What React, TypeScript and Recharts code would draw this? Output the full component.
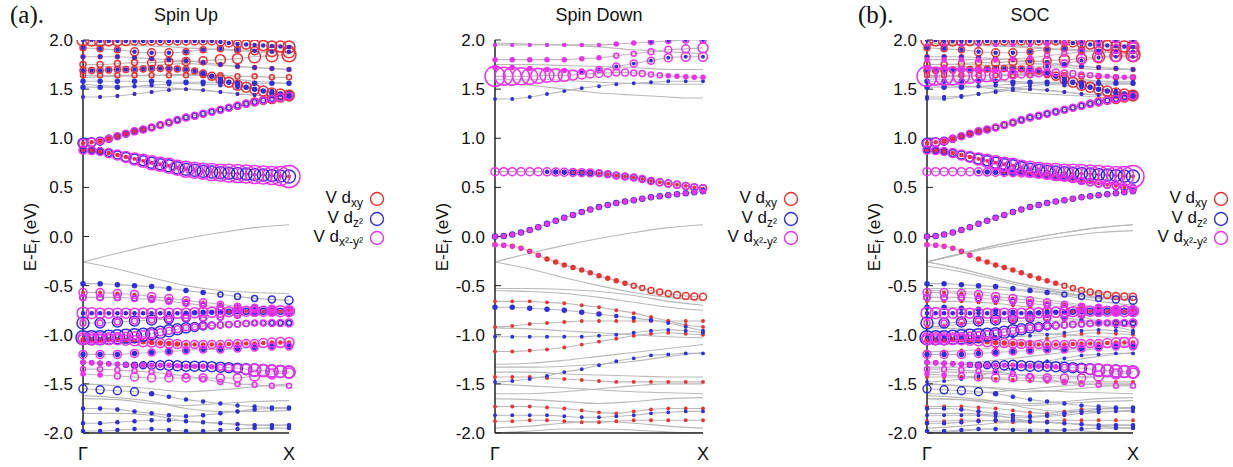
import { ComposedChart, Line, Scatter, XAxis, YAxis } from "recharts";

// k-path grids (Γ = 0, X = 1)
const K25 = [
  0, 0.042, 0.083, 0.125, 0.167, 0.208, 0.25, 0.292, 0.333, 0.375, 0.417, 0.458, 0.5, 0.542, 0.583,
  0.625, 0.667, 0.708, 0.75, 0.792, 0.833, 0.875, 0.917, 0.958, 1,
];
const K13 = [0, 0.083, 0.167, 0.25, 0.333, 0.417, 0.5, 0.583, 0.667, 0.75, 0.833, 0.917, 1];
const K7 = [0, 0.167, 0.333, 0.5, 0.667, 0.833, 1];
const Y_TICKS = [-2, -1.5, -1, -0.5, 0, 0.5, 1, 1.5, 2];
const X_LABELS = ["Γ", "X"];

const RED = "#ee3030";
const BLUE = "#2f2fe0";
const MAGENTA = "#ee30ee";

// ---- spin up: strong bands, fine k grid (K25) ----
const upMainE = [
  [0.95, 0.96, 0.97, 0.995, 1.02, 1.045, 1.07, 1.09, 1.11, 1.135, 1.16, 1.185, 1.21, 1.23, 1.25, 1.27, 1.29, 1.31, 1.33, 1.35, 1.37, 1.385, 1.4, 1.415, 1.43],
  [0.88, 0.875, 0.865, 0.85, 0.83, 0.81, 0.79, 0.77, 0.75, 0.735, 0.72, 0.7, 0.685, 0.675, 0.665, 0.657, 0.65, 0.645, 0.64, 0.635, 0.63, 0.625, 0.62, 0.615, 0.61],
  [2.0, 2.0, 1.99, 1.99, 1.99, 1.99, 1.99, 1.99, 1.99, 1.99, 1.99, 1.99, 1.99, 1.99, 1.99, 1.99, 1.98, 1.97, 1.96, 1.955, 1.95, 1.945, 1.94, 1.935, 1.93],
  [1.69, 1.69, 1.69, 1.695, 1.7, 1.7, 1.7, 1.705, 1.71, 1.71, 1.71, 1.705, 1.7, 1.685, 1.66, 1.63, 1.6, 1.57, 1.54, 1.52, 1.5, 1.48, 1.46, 1.45, 1.44],
  [-0.78, -0.78, -0.78, -0.78, -0.78, -0.78, -0.78, -0.78, -0.78, -0.78, -0.78, -0.78, -0.78, -0.775, -0.77, -0.77, -0.77, -0.765, -0.76, -0.76, -0.76, -0.76, -0.76, -0.76, -0.76],
  [-1.03, -1.03, -1.03, -1.025, -1.02, -1.015, -1.01, -1.0, -0.99, -0.975, -0.96, -0.945, -0.93, -0.92, -0.91, -0.905, -0.9, -0.895, -0.89, -0.885, -0.88, -0.88, -0.88, -0.88, -0.88],
  [-1.05, -1.05, -1.05, -1.05, -1.05, -1.055, -1.06, -1.07, -1.08, -1.085, -1.09, -1.095, -1.1, -1.1, -1.1, -1.1, -1.1, -1.095, -1.09, -1.09, -1.09, -1.085, -1.08, -1.08, -1.08],
  [-1.28, -1.285, -1.29, -1.295, -1.3, -1.305, -1.31, -1.31, -1.31, -1.31, -1.31, -1.315, -1.32, -1.32, -1.32, -1.325, -1.33, -1.335, -1.34, -1.35, -1.36, -1.365, -1.37, -1.375, -1.38],
];
// circle radii (px) for V dxy / dz2 / dx2-y2
const upMainXy = [
  [1.5, 1.5, 2, 2, 2, 2, 2, 2, 2.5, 2.5, 2.5, 2.5, 3, 3, 3, 3, 3, 3, 3.5, 3.5, 4, 4, 4.5, 4.5, 5],
  [2, 2, 2, 1.5, 1.5, 1.5, 1.2, 1.2, 1.2, 1.2, 1.2, 1.2, 1.2, 1.2, 1.2, 1.2, 1.2, 1.2, 1.2, 1.2, 1.2, 1.2, 1.2, 1.2, 1.2],
  [6, 6, 5.5, 5, 5, 4.5, 4, 4, 4, 4, 4, 4, 4, 4, 4, 4, 4, 4, 4, 4.5, 5, 5, 5, 5.5, 6],
  [3, 3, 3, 3, 3, 3, 3, 3, 3, 3, 3, 3, 3, 3, 3.5, 4, 4.5, 5, 5, 5, 5, 5, 5, 5, 5],
  [1.2, 1.2, 1.2, 1.2, 1.2, 1.2, 1.2, 1.2, 1.2, 1.2, 1.2, 1.2, 1.2, 1.2, 1.2, 1.2, 1.2, 1.2, 1.2, 1.2, 1.2, 1.2, 1.2, 1.2, 1.2],
  [],
  [2, 2, 2, 2, 2, 2, 2, 2, 2, 2, 2, 2, 1.5, 1.5, 1.5, 1.5, 1.5, 1.5, 1.5, 1.5, 1.5, 1.5, 1.5, 1.5, 1.5],
  [],
];
const upMainZ2 = [
  [5, 4.5, 4, 3.5, 3, 3, 3, 3, 3, 3, 3, 2.5, 2.5, 2.5, 2.5, 2.5, 2.5, 2.5, 2.5, 2.5, 2.5, 2.5, 2.5, 2.5, 2.5],
  [3, 3, 3, 3.5, 4, 4.5, 5, 5, 5.5, 5.5, 6, 6, 6, 6, 6, 6, 6, 6, 6, 6, 6, 6, 6, 6, 6.5],
  [1.5, 1.5, 1.5, 1.5, 1.5, 1.5, 1.5, 1.5, 1.5, 1.5, 1.5, 1.5, 1.5, 1.5, 1.5, 1.5, 1.5, 1.5, 1.5, 1.5, 1.5, 1.5, 1.5, 1.5, 1.5],
  [1.5, 1.5, 1.5, 1.5, 1.5, 1.5, 1.5, 1.5, 1.5, 1.5, 1.5, 1.5, 1.5, 1.5, 2, 2, 2, 2, 2, 2, 2, 2, 2, 2, 2],
  [1.5, 1.5, 1.5, 1.5, 1.5, 1.5, 1.5, 1.5, 1.5, 1.5, 1.5, 1.5, 2, 2, 2, 2, 2, 2.5, 2.5, 3, 3, 3, 3, 3, 3],
  [7, 7, 7, 7, 7, 7, 7, 6.5, 6, 6, 6, 5.5, 5, 4.5, 4, 3.5, 3, 3, 3, 3, 2.5, 2.5, 2.5, 2.5, 2.5],
  [],
  [2, 2, 2, 2, 2, 2.5, 3, 3.5, 4, 4.5, 5, 5, 5, 5, 5, 5, 5, 5, 5, 5.5, 6, 6, 6, 6, 6],
];
const upMainX2 = [
  [4, 4, 3.5, 3.5, 3.5, 3.5, 3.5, 3.5, 3.5, 3.5, 3.5, 3.5, 3.5, 3.5, 3.5, 3.5, 3.5, 3.5, 3.5, 3.5, 3.5, 3.5, 3.5, 3.5, 3.5],
  [4, 4, 4, 4.5, 5, 5.5, 6, 6.5, 7, 7, 7.5, 7.5, 8, 8, 8, 8.5, 8.5, 9, 9, 9, 9, 9, 9, 9.5, 11],
  [],
  [],
  [6, 5.5, 5, 5, 5, 5, 5, 5, 5, 5, 5, 5, 5, 5, 5, 5, 5, 5, 5, 5, 5, 5, 5, 5.5, 5.5],
  [5, 5, 5, 4.5, 4, 4, 4, 4, 4, 3.5, 3.5, 3.5, 3, 3, 3, 3, 3, 3, 3, 3, 3, 3, 3.5, 3.5, 4],
  [5, 5, 5, 5, 5, 5, 5, 5, 4.5, 4.5, 4.5, 4.5, 4, 4, 4, 4, 4, 4, 4, 4, 4, 4.5, 4.5, 5, 5],
  [2, 2, 2, 2, 2, 2, 2, 2, 2, 2, 2, 2, 2, 2, 2, 2, 3, 3.5, 4, 5, 6, 6, 6, 6, 6],
];

// ---- spin up: weaker bands, coarse k grid (K13) ----
const upE = [
  [1.92, 1.91, 1.9, 1.88, 1.87, 1.87, 1.88, 1.9, 1.91, 1.9, 1.89, 1.88, 1.88],
  [1.75, 1.75, 1.76, 1.77, 1.77, 1.78, 1.78, 1.79, 1.8, 1.81, 1.83, 1.84, 1.85],
  [1.83, 1.83, 1.83, 1.82, 1.81, 1.8, 1.79, 1.77, 1.75, 1.73, 1.72, 1.71, 1.7],
  [1.64, 1.64, 1.64, 1.64, 1.64, 1.64, 1.64, 1.64, 1.64, 1.63, 1.63, 1.62, 1.62],
  [1.58, 1.58, 1.58, 1.58, 1.58, 1.57, 1.57, 1.57, 1.57, 1.56, 1.56, 1.56, 1.56],
  [1.52, 1.52, 1.52, 1.53, 1.54, 1.55, 1.56, 1.55, 1.54, 1.52, 1.5, 1.48, 1.46],
  [1.42, 1.42, 1.43, 1.45, 1.47, 1.49, 1.5, 1.49, 1.47, 1.45, 1.44, 1.43, 1.42],
  [-0.48, -0.48, -0.49, -0.5, -0.51, -0.53, -0.55, -0.57, -0.59, -0.61, -0.63, -0.64, -0.65],
  [-0.57, -0.57, -0.58, -0.59, -0.61, -0.63, -0.65, -0.67, -0.69, -0.71, -0.72, -0.73, -0.74],
  [-0.62, -0.62, -0.62, -0.63, -0.64, -0.66, -0.68, -0.7, -0.72, -0.73, -0.74, -0.75, -0.76],
  [-0.88, -0.88, -0.87, -0.86, -0.85, -0.84, -0.83, -0.83, -0.82, -0.8, -0.78, -0.77, -0.76],
  [-1.2, -1.2, -1.2, -1.19, -1.18, -1.17, -1.16, -1.15, -1.15, -1.14, -1.13, -1.12, -1.12],
  [-1.4, -1.41, -1.42, -1.43, -1.44, -1.44, -1.44, -1.44, -1.44, -1.44, -1.42, -1.4, -1.39],
  [-1.55, -1.56, -1.57, -1.58, -1.6, -1.63, -1.66, -1.68, -1.7, -1.72, -1.73, -1.74, -1.74],
  [-1.75, -1.75, -1.76, -1.78, -1.8, -1.82, -1.83, -1.82, -1.8, -1.78, -1.76, -1.75, -1.75],
  [-1.9, -1.9, -1.89, -1.88, -1.87, -1.87, -1.88, -1.89, -1.9, -1.91, -1.92, -1.92, -1.92],
  [-1.98, -1.98, -1.97, -1.96, -1.96, -1.97, -1.98, -1.98, -1.97, -1.96, -1.95, -1.95, -1.95],
  [-1.35, -1.35, -1.36, -1.37, -1.38, -1.4, -1.42, -1.45, -1.48, -1.5, -1.51, -1.52, -1.52],
];
const upXy = [
  [3, 3, 3, 4, 4, 4, 3, 3, 3, 3, 4, 5, 6],
  [3, 3, 3, 3, 4, 4, 4, 4, 5, 5, 6, 6, 7],
  [2, 2, 2, 2, 2, 2, 2, 2, 2, 2, 2, 2, 2],
  [2.5, 2.5, 2.5, 2.5, 2.5, 2.5, 2.5, 2.5, 2.5, 2.5, 2.5, 2.5, 2.5],
  [],
  [],
  [1.2, 1.2, 1.2, 1.2, 1.2, 1.2, 1.2, 1.2, 1.2, 1.2, 1.2, 1.2, 1.2],
  [],
  [1.2, 1.2, 1.2, 1.2, 1.2, 1.2, 1.2, 1.2, 1.2, 1.2, 1.2, 1.2, 1.2],
  [],
  [],
  [],
  [],
  [],
  [1.2, 1.2, 1.2, 1.2, 1.2, 1.2, 1.2, 1.2, 1.2, 1.2, 1.2, 1.2, 1.2],
  [1.2, 1.2, 1.2, 1.2, 1.2, 1.2, 1.2, 1.2, 1.2, 1.2, 1.2, 1.2, 1.2],
  [],
  [],
];
const upZ2 = [
  [1.5, 1.5, 1.5, 1.5, 1.5, 1.5, 1.5, 1.5, 1.5, 1.5, 1.5, 1.5, 1.5],
  [],
  [1.5, 1.5, 1.5, 1.5, 1.5, 1.5, 1.5, 1.5, 1.5, 1.5, 1.5, 1.5, 1.5],
  [],
  [2, 2, 2, 2, 2, 2, 2, 2, 2, 2, 2, 2, 2],
  [2, 2, 2, 1.5, 1.5, 1.5, 1.5, 1.5, 1.5, 1.5, 1.5, 1.5, 1.5],
  [1.2, 1.2, 1.2, 1.2, 1.2, 1.2, 1.2, 1.2, 1.2, 1.2, 1.2, 1.2, 1.2],
  [2, 2, 2, 2, 2, 2, 2, 2, 2.5, 3, 3, 3.5, 4],
  [],
  [3, 3, 3, 2.5, 2.5, 2.5, 2.5, 2.5, 3, 3, 3.5, 4, 4],
  [6, 5, 5, 5, 5, 4.5, 4, 3.5, 3, 3, 3, 3, 3],
  [2, 2, 2, 2, 2, 2, 2, 2, 2, 2, 2, 2, 2],
  [],
  [4, 4, 4, 4, 2, 1.5, 1.5, 1.5, 1.5, 1.5, 1.5, 1.5, 1.5],
  [1.5, 1.5, 1.5, 1.5, 1.5, 1.5, 1.5, 1.5, 1.5, 1.5, 1.5, 1.5, 1.5],
  [1.5, 1.5, 1.5, 1.5, 1.5, 1.5, 1.5, 1.5, 1.5, 1.5, 1.5, 1.5, 1.5],
  [1.5, 1.5, 1.5, 1.5, 1.5, 1.5, 1.5, 1.5, 1.5, 1.5, 1.5, 1.5, 1.5],
  [],
];
const upX2 = [
  [],
  [],
  [],
  [],
  [],
  [],
  [],
  [],
  [4, 4, 4, 4, 4, 4, 3.5, 3.5, 3, 3, 3, 3, 3],
  [3, 3, 3, 3, 3, 3, 3, 3, 3, 3, 3, 3, 3],
  [3, 3, 3, 3, 3, 3, 3, 3, 3, 3, 3, 3, 3],
  [4, 4, 4, 4, 3.5, 3.5, 3.5, 3.5, 3.5, 3.5, 3.5, 3.5, 3.5],
  [2, 2, 3, 4, 4, 4, 4, 4, 4, 4, 5, 5, 5],
  [],
  [],
  [],
  [],
  [2.5, 2.5, 2.5, 2.5, 2.5, 2.5, 2.5, 2.5, 2.5, 2.5, 2.5, 2.5, 2.5],
];
// plain bands (grey lines only), on K7
const upGrey = [
  [-0.26, -0.17, -0.09, -0.02, 0.04, 0.09, 0.12],
  [-0.26, -0.33, -0.42, -0.5, -0.55, -0.57, -0.58],
  [-1.5, -1.52, -1.55, -1.58, -1.56, -1.53, -1.5],
  [-1.62, -1.64, -1.68, -1.75, -1.78, -1.78, -1.77],
  [-1.8, -1.8, -1.82, -1.88, -1.9, -1.92, -1.92],
  [-1.65, -1.66, -1.7, -1.72, -1.7, -1.68, -1.67],
  [1.62, 1.63, 1.64, 1.65, 1.62, 1.58, 1.56],
  [1.72, 1.73, 1.74, 1.76, 1.74, 1.72, 1.7],
  [1.96, 1.95, 1.94, 1.92, 1.9, 1.88, 1.87],
  [1.55, 1.53, 1.52, 1.5, 1.47, 1.44, 1.42],
];

// ---- spin down: strong bands (K25) ----
const dnMainE = [
  [1.63, 1.63, 1.63, 1.63, 1.63, 1.635, 1.64, 1.64, 1.64, 1.645, 1.65, 1.655, 1.66, 1.665, 1.67, 1.67, 1.665, 1.66, 1.65, 1.64, 1.635, 1.63, 1.625, 1.62, 1.62],
  [0.66, 0.66, 0.66, 0.66, 0.66, 0.66, 0.658, 0.656, 0.654, 0.652, 0.65, 0.647, 0.643, 0.633, 0.62, 0.61, 0.6, 0.585, 0.565, 0.553, 0.54, 0.527, 0.515, 0.5, 0.49],
  [0, 0.005, 0.02, 0.04, 0.065, 0.095, 0.13, 0.16, 0.19, 0.22, 0.25, 0.275, 0.3, 0.32, 0.34, 0.355, 0.37, 0.385, 0.4, 0.41, 0.42, 0.43, 0.44, 0.45, 0.46],
  [-0.085, -0.09, -0.1, -0.12, -0.15, -0.19, -0.23, -0.26, -0.29, -0.315, -0.34, -0.37, -0.4, -0.425, -0.45, -0.475, -0.5, -0.525, -0.55, -0.565, -0.58, -0.595, -0.605, -0.61, -0.613],
];
const dnMainXy = [
  [],
  [0, 0, 0, 0, 0, 0, 1.2, 1.2, 1.2, 1.2, 1.2, 1.2, 1.2, 1.2, 1.2, 1.2, 1.2, 1.2, 1.2, 1.2, 1.2, 1.2, 1.2, 1.2, 1.2],
  [1.2, 1.2, 1.2, 1.2, 1.2, 1.2, 1.2, 1.2, 1.2, 1.2, 1.2, 1.2, 1.2, 1.2, 1.2, 1.2, 1.2, 1.2, 1.2, 1.2, 1.2, 1.2, 1.2, 1.2, 1.2],
  [2, 2, 2, 2, 2, 2, 2, 2, 2, 2, 2, 2, 2, 2, 2, 2, 2.5, 2.5, 3, 3, 3, 3.5, 3.5, 3.5, 3.5],
];
const dnMainZ2 = [
  [],
  [0, 0, 0, 0, 0, 0, 1.5, 2, 2, 2.5, 2.5, 2.5, 3, 3, 3, 3, 3, 3, 3, 3.5, 3.5, 3.5, 3.5, 3.5, 3.5],
  [2.5, 2.5, 2.5, 2.5, 2.5, 2.5, 2.5, 2.5, 2.5, 2.5, 2.5, 2.5, 2.5, 2.5, 2.5, 2.5, 2.5, 2.5, 2.5, 2.5, 2.5, 2.5, 2.5, 2.5, 2.5],
  [],
];
const dnMainX2 = [
  [10, 9, 9, 8.5, 8, 7.5, 7, 6.5, 6, 5, 4.5, 4, 4, 4, 3.5, 3.5, 3, 3, 2.5, 2.5, 2, 2, 2, 2, 2],
  [4, 4, 4, 4, 4, 4, 4, 4, 4, 4, 4, 4, 3.5, 3.5, 3.5, 3.5, 3.5, 3.5, 3.5, 3.5, 3.5, 3.5, 3.5, 3.5, 3.5],
  [1.8, 1.8, 1.8, 1.8, 1.8, 1.8, 1.8, 1.8, 1.8, 1.8, 1.8, 1.8, 1.8, 1.8, 1.8, 1.8, 1.8, 1.8, 1.8, 1.8, 1.8, 1.8, 1.8, 1.8, 1.8],
  [1.8, 1.8, 1.5, 1.5, 1.2, 1.2, 0, 0, 0, 0, 0, 0, 0, 0, 0, 0, 0, 0, 0, 0, 0, 0, 0, 0, 0],
];

// ---- spin down: other bands (K13) ----
const dnE = [
  [1.72, 1.72, 1.71, 1.7, 1.69, 1.68, 1.7, 1.73, 1.76, 1.79, 1.82, 1.83, 1.83],
  [1.8, 1.8, 1.8, 1.8, 1.8, 1.81, 1.82, 1.84, 1.86, 1.88, 1.9, 1.91, 1.92],
  [1.95, 1.95, 1.95, 1.95, 1.95, 1.95, 1.95, 1.96, 1.97, 1.98, 1.99, 2.0, 2.0],
  [1.4, 1.4, 1.42, 1.45, 1.48, 1.51, 1.53, 1.55, 1.56, 1.57, 1.58, 1.58, 1.58],
  [1.55, 1.55, 1.54, 1.52, 1.5, 1.48, 1.46, 1.45, 1.44, 1.43, 1.42, 1.41, 1.41],
  [-0.66, -0.66, -0.66, -0.67, -0.68, -0.7, -0.72, -0.75, -0.78, -0.82, -0.86, -0.9, -0.92],
  [-0.72, -0.72, -0.73, -0.74, -0.75, -0.77, -0.79, -0.81, -0.83, -0.85, -0.88, -0.92, -0.96],
  [-0.92, -0.91, -0.89, -0.88, -0.87, -0.86, -0.86, -0.86, -0.86, -0.86, -0.86, -0.86, -0.86],
  [-1.02, -1.02, -1.02, -1.02, -1.02, -1.02, -1.01, -1.0, -0.98, -0.96, -0.95, -0.96, -0.98],
  [-1.17, -1.17, -1.16, -1.15, -1.13, -1.1, -1.07, -1.04, -1.01, -0.99, -0.98, -0.99, -1.0],
  [-1.48, -1.47, -1.45, -1.42, -1.38, -1.35, -1.31, -1.27, -1.24, -1.21, -1.2, -1.19, -1.19],
  [-1.43, -1.43, -1.43, -1.44, -1.45, -1.46, -1.47, -1.48, -1.48, -1.48, -1.48, -1.48, -1.48],
  [-1.73, -1.73, -1.73, -1.74, -1.75, -1.77, -1.79, -1.8, -1.78, -1.76, -1.75, -1.75, -1.75],
  [-1.82, -1.82, -1.82, -1.82, -1.83, -1.84, -1.84, -1.83, -1.82, -1.8, -1.79, -1.78, -1.78],
  [-1.88, -1.88, -1.87, -1.87, -1.88, -1.89, -1.89, -1.88, -1.87, -1.87, -1.87, -1.87, -1.87],
];
const dnXy = [
  [],
  [],
  [],
  [],
  [],
  [1.2, 1.2, 1.2, 1.2, 1.2, 1.2, 1.2, 1.2, 1.2, 1.2, 1.2, 1.2, 1.2],
  [],
  [1.2, 1.2, 1.2, 1.2, 1.2, 1.2, 1.2, 1.2, 1.2, 1.2, 1.2, 1.2, 1.2],
  [],
  [1.2, 1.2, 1.2, 1.2, 1.2, 1.2, 1.2, 1.2, 1.2, 1.2, 1.2, 1.2, 1.2],
  [],
  [1.2, 1.2, 1.2, 1.2, 1.2, 1.2, 1.2, 1.2, 1.2, 1.2, 1.2, 1.2, 1.2],
  [1.2, 1.2, 1.2, 1.2, 1.2, 1.2, 1.2, 1.2, 1.2, 1.2, 1.2, 1.2, 1.2],
  [],
  [1.2, 1.2, 1.2, 1.2, 1.2, 1.2, 1.2, 1.2, 1.2, 1.2, 1.2, 1.2, 1.2],
];
const dnZ2 = [
  [1.2, 1.2, 1.2, 1.2, 1.2, 1.2, 1.2, 1.2, 1.2, 1.2, 1.2, 1.2, 1.2],
  [],
  [1.2, 1.2, 1.2, 1.2, 1.2, 1.2, 1.2, 1.2, 1.2, 1.2, 1.2, 1.2, 1.2],
  [1.2, 1.2, 1.2, 1.2, 1.2, 1.2, 1.2, 1.2, 1.2, 1.2, 1.2, 1.2, 1.2],
  [],
  [],
  [2, 2, 2, 2, 2, 2, 2, 1.5, 1.5, 1.5, 1.2, 1.2, 1.2],
  [],
  [1.2, 1.2, 1.2, 1.2, 1.2, 1.2, 1.2, 1.2, 1.2, 1.2, 1.2, 1.2, 1.2],
  [],
  [1.2, 1.2, 1.2, 1.2, 1.2, 1.2, 1.2, 1.2, 1.2, 1.2, 1.2, 1.2, 1.2],
  [],
  [],
  [1.2, 1.2, 1.2, 1.2, 1.2, 1.2, 1.2, 1.2, 1.2, 1.2, 1.2, 1.2, 1.2],
  [],
];
const dnX2 = [
  [2, 2, 2, 2, 2, 2.5, 3, 3.5, 3.5, 3.5, 4, 4.5, 4.5],
  [2, 2, 2, 2, 2, 2, 2, 2.5, 2.5, 3, 3.5, 4, 5],
  [1.2, 1.2, 1.2, 1.2, 1.5, 1.5, 1.5, 2, 2, 2.5, 2.5, 3, 3],
  [],
  [],
  [],
  [],
  [],
  [],
  [],
  [],
  [],
  [],
  [],
  [],
];
const dnGrey = [
  [-0.26, -0.17, -0.09, -0.02, 0.04, 0.09, 0.12],
  [-0.26, -0.33, -0.42, -0.5, -0.57, -0.62, -0.65],
  [-0.53, -0.53, -0.54, -0.56, -0.6, -0.66, -0.7],
  [-0.55, -0.56, -0.58, -0.62, -0.67, -0.72, -0.75],
  [-0.93, -0.94, -0.96, -0.98, -1.0, -1.02, -1.03],
  [-1.3, -1.29, -1.26, -1.22, -1.18, -1.14, -1.1],
  [-1.33, -1.33, -1.32, -1.3, -1.27, -1.22, -1.18],
  [-1.5, -1.52, -1.54, -1.56, -1.58, -1.59, -1.6],
  [-1.6, -1.6, -1.58, -1.55, -1.52, -1.5, -1.5],
  [-1.65, -1.66, -1.68, -1.7, -1.68, -1.65, -1.64],
  [-1.95, -1.93, -1.9, -1.88, -1.9, -1.93, -1.95],
  [-2.0, -1.98, -1.96, -1.96, -1.97, -1.99, -2.0],
  [-1.38, -1.38, -1.4, -1.41, -1.42, -1.43, -1.43],
  [1.6, 1.6, 1.59, 1.57, 1.56, 1.55, 1.55],
  [1.75, 1.75, 1.74, 1.73, 1.72, 1.7, 1.7],
  [1.97, 1.96, 1.95, 1.93, 1.9, 1.88, 1.86],
];
// SOC: extra split-off bands seen only there
const socGrey = [
  [-0.26, -0.18, -0.11, -0.05, 0.0, 0.04, 0.06],
  [-0.3, -0.36, -0.44, -0.52, -0.58, -0.61, -0.63],
];

const FONT = '"Liberation Sans", Arial, sans-serif';

type BandSet = { grid: number[]; e: number[][]; xy: number[][]; z2: number[][]; x2: number[][] };
type Pt = { k: number; e: number; r: number };

function rings(sets: BandSet[], key: "xy" | "z2" | "x2"): Pt[] {
  const pts: Pt[] = [];
  sets.forEach((s) =>
    s.e.forEach((e, b) =>
      (s[key][b] || []).forEach((r, i) => {
        if (r > 0) pts.push({ k: s.grid[i], e: e[i], r });
      })
    )
  );
  return pts;
}

const ring = (color: string) => (p: any) => {
  const r = p.payload.r;
  return (
    <circle
      cx={p.cx}
      cy={p.cy}
      r={r}
      fill={r <= 2 ? color : "none"}
      stroke={color}
      strokeWidth={1.5}
    />
  );
};

const LEGEND = [
  { color: RED, sub: "xy" },
  { color: BLUE, sub: "z²" },
  { color: MAGENTA, sub: "x²-y²" },
];

type PanelProps = {
  left: number;
  yw: number;
  width: number;
  plotRight: number;
  title: string;
  sets: BandSet[];
  grey: number[][];
};

function Panel({ left, yw, width, plotRight, title, sets, grey }: PanelProps) {
  const plotLeft = left + yw;
  const mid = (plotLeft + plotRight) / 2;
  const legendX = plotRight + 88;
  const lines: { k: number; e: number }[][] = [];
  grey.forEach((e) => lines.push(e.map((v, i) => ({ k: K7[i], e: v }))));
  sets.forEach((s) => s.e.forEach((e) => lines.push(e.map((v, i) => ({ k: s.grid[i], e: v })))));
  return (
    <>
      <div
        style={{
          position: "absolute",
          left: mid - 100,
          top: 5,
          width: 200,
          textAlign: "center",
          fontSize: 18,
          lineHeight: "20px",
        }}
      >
        {title}
      </div>
      <div
        style={{
          position: "absolute",
          left: plotLeft - 52 - 60,
          top: 237 - 12,
          width: 120,
          height: 24,
          lineHeight: "24px",
          textAlign: "center",
          fontSize: 17,
          transform: "rotate(-90deg)",
          whiteSpace: "nowrap",
        }}
      >
        E-E<sub style={{ fontSize: 12, lineHeight: 0 }}>f</sub> (eV)
      </div>
      {LEGEND.map((l, i) => (
        <div key={l.sub}>
          <div
            style={{
              position: "absolute",
              left: legendX - 130,
              width: 116,
              top: 199 + i * 19.5 - 12,
              height: 22,
              lineHeight: "22px",
              textAlign: "right",
              fontSize: 17,
              whiteSpace: "nowrap",
            }}
          >
            V d<sub style={{ fontSize: 12, lineHeight: 0 }}>{l.sub}</sub>
          </div>
          <svg
            width={18}
            height={18}
            style={{ position: "absolute", left: legendX - 9, top: 199 + i * 19.5 - 9 }}
          >
            <circle cx={9} cy={9} r={6.5} fill="none" stroke={l.color} strokeWidth={1.4} />
          </svg>
        </div>
      ))}
      <div style={{ position: "absolute", left, top: 0 }}>
        <ComposedChart
          width={width}
          height={467}
          margin={{ top: 40, right: width - (plotRight - left), bottom: 4, left: 0 }}
        >
          <XAxis
            dataKey="k"
            type="number"
            domain={[0, 1]}
            ticks={[0, 1]}
            tickFormatter={(v: number) => X_LABELS[v]}
            tickLine={false}
            axisLine={{ stroke: "#222", strokeWidth: 1.5 }}
            tick={{ fontSize: 18, fill: "#111", fontFamily: FONT }}
            tickMargin={8}
            height={30}
          />
          <XAxis
            xAxisId="top"
            orientation="top"
            type="number"
            domain={[0, 1]}
            tick={false}
            tickLine={false}
            axisLine={{ stroke: "#222", strokeWidth: 1.5 }}
            height={0}
          />
          <YAxis
            dataKey="e"
            type="number"
            domain={[-2, 2]}
            allowDataOverflow
            ticks={Y_TICKS}
            tickFormatter={(v: number) => v.toFixed(1)}
            tickSize={-6}
            tickMargin={16}
            tickLine={{ stroke: "#222" }}
            axisLine={{ stroke: "#222", strokeWidth: 1.5 }}
            tick={{ fontSize: 17, fill: "#111", fontFamily: FONT }}
            width={yw}
          />
          <YAxis
            yAxisId="right"
            orientation="right"
            type="number"
            domain={[-2, 2]}
            ticks={Y_TICKS}
            tick={false}
            tickSize={-6}
            tickLine={{ stroke: "#222" }}
            axisLine={{ stroke: "#222", strokeWidth: 1.5 }}
            width={0}
          />
          {lines.map((d, b) => (
            <Line
              key={"l" + b}
              data={d}
              dataKey="e"
              type="monotone"
              stroke="#b9b9b9"
              strokeWidth={1.1}
              dot={false}
              isAnimationActive={false}
            />
          ))}
          <Scatter data={rings(sets, "xy")} shape={ring(RED)} isAnimationActive={false} />
          <Scatter data={rings(sets, "z2")} shape={ring(BLUE)} isAnimationActive={false} />
          <Scatter data={rings(sets, "x2")} shape={ring(MAGENTA)} isAnimationActive={false} />
        </ComposedChart>
      </div>
    </>
  );
}

const UP_SETS: BandSet[] = [
  { grid: K13, e: upE, xy: upXy, z2: upZ2, x2: upX2 },
  { grid: K25, e: upMainE, xy: upMainXy, z2: upMainZ2, x2: upMainX2 },
];
const DN_SETS: BandSet[] = [
  { grid: K13, e: dnE, xy: dnXy, z2: dnZ2, x2: dnX2 },
  { grid: K25, e: dnMainE, xy: dnMainXy, z2: dnMainZ2, x2: dnMainX2 },
];

export default function App() {
  return (
    <div
      style={{
        position: "fixed",
        left: 0,
        top: 0,
        width: 1233,
        height: 467,
        background: "#fff",
        fontFamily: FONT,
        color: "#111",
        overflow: "hidden",
      }}
    >
      <div style={{ position: "absolute", left: 10, top: 1, fontSize: 25, fontFamily: '"Liberation Serif", serif' }}>
        (a).
      </div>
      <div style={{ position: "absolute", left: 858, top: 1, fontSize: 25, fontFamily: '"Liberation Serif", serif' }}>
        (b).
      </div>
      <Panel left={0} yw={83} width={310} plotRight={289} title="Spin Up" sets={UP_SETS} grey={upGrey} />
      <Panel left={420} yw={75} width={300} plotRight={703} title="Spin Down" sets={DN_SETS} grey={dnGrey} />
      <Panel
        left={850}
        yw={77}
        width={300}
        plotRight={1133}
        title="SOC"
        sets={[...UP_SETS, ...DN_SETS]}
        grey={[...upGrey, ...dnGrey, ...socGrey]}
      />
    </div>
  );
}
